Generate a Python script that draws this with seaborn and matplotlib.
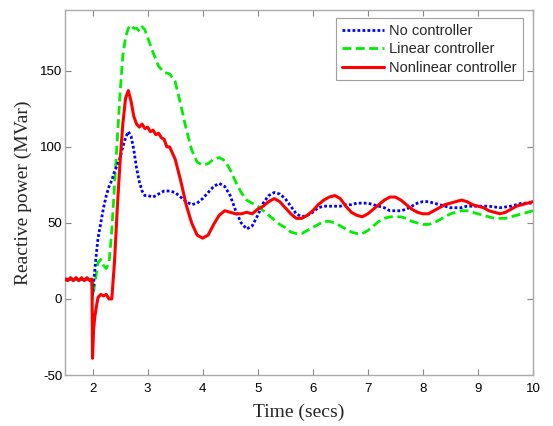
import numpy as np
import pandas as pd
import matplotlib
matplotlib.use("Agg")
import matplotlib.pyplot as plt
import seaborn as sns

# ---------------- data ----------------
t_nl = [1.5, 1.55, 1.6, 1.65, 1.7, 1.75, 1.8, 1.85, 1.9, 1.95, 1.99, 2.0, 2.02, 2.04, 2.07,
        2.1, 2.15, 2.2, 2.25, 2.3, 2.35, 2.4, 2.45, 2.5, 2.55, 2.6, 2.65, 2.7, 2.75, 2.8,
        2.85, 2.9, 2.95, 3.0, 3.05, 3.1, 3.15, 3.2, 3.25, 3.3, 3.35, 3.4, 3.45, 3.5, 3.55,
        3.6, 3.7, 3.8, 3.9, 4.0, 4.1, 4.2, 4.3, 4.4, 4.5, 4.6, 4.7, 4.8, 4.9, 5.0, 5.1,
        5.2, 5.3, 5.4, 5.5, 5.6, 5.7, 5.8, 5.9, 6.0, 6.1, 6.2, 6.3, 6.4, 6.5, 6.6, 6.7,
        6.8, 6.9, 7.0, 7.1, 7.2, 7.3, 7.4, 7.5, 7.6, 7.7, 7.8, 7.9, 8.0, 8.1, 8.2, 8.3,
        8.4, 8.5, 8.6, 8.7, 8.8, 8.9, 9.0, 9.1, 9.2, 9.3, 9.4, 9.5, 9.6, 9.7, 9.8, 9.9, 10.0]
q_nl = [13, 12, 14, 12, 14, 12, 14, 12, 14, 12, 13, -39, -20, -12, -5,
        1, 3, 2, 3, 0, 0, 25, 60, 90, 115, 132, 137, 130, 120, 115,
        113, 115, 112, 113, 110, 111, 108, 109, 106, 105, 100, 100, 96, 92, 85,
        78, 62, 50, 42, 40, 42, 49, 55, 58, 57, 56, 56, 57, 56, 59, 61,
        64, 66, 64, 60, 56, 53, 53, 55, 58, 62, 65, 67, 68, 66, 61, 57,
        55, 54, 56, 59, 62, 65, 67, 67, 65, 62, 59, 57, 56, 56, 58, 60,
        62, 63, 64, 65, 64, 62, 61, 60, 58, 57, 56, 57, 59, 61, 62, 63, 64]

t_lin = [1.5, 1.99, 2.0, 2.05, 2.1, 2.15, 2.2, 2.25, 2.3, 2.35, 2.4, 2.45, 2.5, 2.55, 2.6,
         2.65, 2.7, 2.75, 2.8, 2.85, 2.9, 2.95, 3.0, 3.1, 3.2, 3.3, 3.4, 3.5, 3.6, 3.7,
         3.8, 3.9, 4.0, 4.1, 4.2, 4.3, 4.4, 4.5, 4.6, 4.7, 4.8, 4.9, 5.0, 5.1, 5.2, 5.3,
         5.4, 5.5, 5.6, 5.7, 5.8, 5.9, 6.0, 6.1, 6.2, 6.3, 6.4, 6.5, 6.6, 6.7, 6.8, 6.9,
         7.0, 7.1, 7.2, 7.3, 7.4, 7.5, 7.6, 7.7, 7.8, 7.9, 8.0, 8.1, 8.2, 8.3, 8.4, 8.5,
         8.6, 8.7, 8.8, 8.9, 9.0, 9.1, 9.2, 9.3, 9.4, 9.5, 9.6, 9.7, 9.8, 9.9, 10.0]
q_lin = [13, 13, 0, 12, 24, 26, 22, 20, 24, 45, 75, 105, 135, 160, 172,
         178, 180, 178, 178, 176, 179, 177, 172, 162, 153, 149, 148, 143, 128, 112,
         98, 90, 88, 89, 92, 93, 91, 85, 77, 70, 65, 63, 61, 58, 55, 52,
         49, 47, 44, 43, 43, 45, 47, 49, 51, 51, 50, 48, 46, 44, 43, 43,
         45, 48, 51, 53, 54, 54, 54, 53, 51, 50, 49, 49, 50, 52, 54, 56,
         57, 58, 58, 57, 56, 55, 54, 53, 53, 53, 54, 55, 56, 57, 58]

t_no = [1.5, 1.99, 2.0, 2.03, 2.07, 2.1, 2.15, 2.2, 2.25, 2.3, 2.35, 2.4, 2.45, 2.5, 2.55,
        2.6, 2.65, 2.7, 2.75, 2.8, 2.85, 2.9, 2.95, 3.0, 3.1, 3.2, 3.3, 3.4, 3.5, 3.6,
        3.7, 3.8, 3.9, 4.0, 4.1, 4.2, 4.3, 4.4, 4.5, 4.6, 4.7, 4.8, 4.9, 5.0, 5.1, 5.2,
        5.3, 5.4, 5.5, 5.6, 5.7, 5.8, 5.9, 6.0, 6.1, 6.2, 6.3, 6.4, 6.5, 6.6, 6.7, 6.8,
        6.9, 7.0, 7.1, 7.2, 7.3, 7.4, 7.5, 7.6, 7.7, 7.8, 7.9, 8.0, 8.1, 8.2, 8.3, 8.4,
        8.5, 8.6, 8.7, 8.8, 8.9, 9.0, 9.2, 9.4, 9.6, 9.8, 10.0]
q_no = [13, 13, 3, 15, 30, 40, 50, 60, 68, 74, 78, 84, 88, 93, 100,
        106, 110, 107, 98, 86, 77, 71, 68, 68, 67, 69, 71, 71, 70, 67,
        64, 62, 63, 66, 70, 74, 76, 74, 68, 58, 50, 46, 48, 55, 63, 68,
        70, 69, 66, 61, 56, 54, 55, 57, 60, 61, 61, 61, 61, 62, 62, 63,
        63, 63, 62, 61, 60, 58, 58, 58, 59, 61, 63, 64, 64, 63, 62, 61,
        60, 60, 60, 61, 61, 61, 61, 60, 61, 63, 63]

x_ticks = [2, 3, 4, 5, 6, 7, 8, 9, 10]
y_ticks = [-50, 0, 50, 100, 150]
x_label = "Time (secs)"
y_label = "Reactive power (MVar)"
labels = ["No controller", "Linear controller", "Nonlinear controller"]

# ---------------- plotting ----------------
sns.set_style("white")
plt.rcParams["font.family"] = ["Liberation Sans", "DejaVu Sans"]
plt.rcParams["axes.unicode_minus"] = False

fig = plt.figure(figsize=(5.53, 4.26), dpi=100)
ax = fig.add_axes([65 / 553, 1 - 375 / 426, (533 - 65) / 553, (375 - 10) / 426])

df_no = pd.DataFrame({"t": t_no, "q": q_no})
df_lin = pd.DataFrame({"t": t_lin, "q": q_lin})
df_nl = pd.DataFrame({"t": t_nl, "q": q_nl})

sns.lineplot(data=df_no, x="t", y="q", ax=ax, color="#0000ff", linestyle=(0, (1, 0.8)),
             linewidth=2.0, estimator=None, sort=False, label=labels[0], zorder=3)
sns.lineplot(data=df_lin, x="t", y="q", ax=ax, color="#00ee00", linestyle=(0, (3.2, 1.6)),
             linewidth=2.0, estimator=None, sort=False, label=labels[1], zorder=2)
sns.lineplot(data=df_nl, x="t", y="q", ax=ax, color="#ff0000", linestyle="-",
             linewidth=2.2, estimator=None, sort=False, label=labels[2], zorder=4)

ax.set_xlim(1.5, 10)
ax.set_ylim(-50, 190)
ax.set_xticks(x_ticks)
ax.set_yticks(y_ticks)
ax.tick_params(direction="in", length=4, width=0.8, colors="#888888",
               labelcolor="black", labelsize=9.5, top=True, right=True,
               left=True, bottom=True)
ax.tick_params(axis="y", pad=2)
ax.tick_params(axis="x", pad=6)
for s in ax.spines.values():
    s.set_color("#aaaaaa")
    s.set_linewidth(1.0)

ax.set_xlabel(x_label, family="Liberation Serif", fontsize=14, labelpad=6)
ax.set_ylabel(y_label, family="Liberation Serif", fontsize=14, labelpad=6)

leg = ax.legend(loc="upper right", bbox_to_anchor=(0.978, 0.978), fontsize=10.5,
                frameon=True, fancybox=False, handlelength=2.9, handletextpad=0.35,
                borderpad=0.4, labelspacing=0.3, borderaxespad=0.0)
leg.get_frame().set_edgecolor("#888888")
leg.get_frame().set_linewidth(0.8)

fig.savefig("out.png", dpi=100)
